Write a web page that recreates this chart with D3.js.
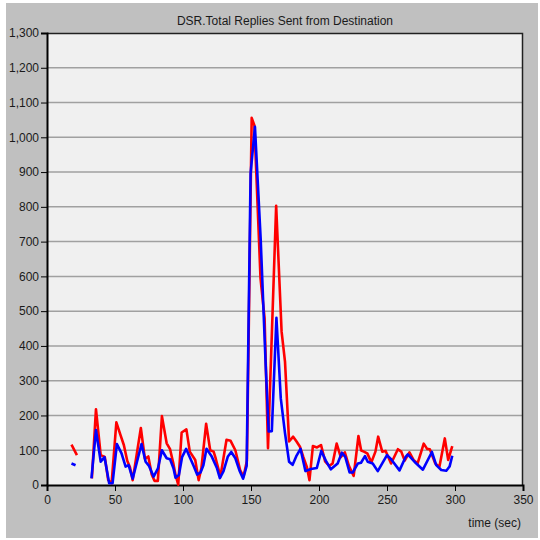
<!DOCTYPE html>
<html>
<head>
<meta charset="utf-8">
<script src="https://cdn.jsdelivr.net/npm/d3@7"></script>
<style>
    body { margin: 0; background: #ffffff; }
    #chart { width: 540px; height: 540px; }
    text { font-family: "Liberation Sans", Arial, sans-serif; }
</style>
</head>
<body>
<div id="chart"></div>
<script>
var chartTitle = "DSR.Total Replies Sent from Destination";
var xAxisLabel = "time (sec)";
var xTicks = [0, 50, 100, 150, 200, 250, 300, 350];
var yTicks = [0, 100, 200, 300, 400, 500, 600, 700, 800, 900, 1000, 1100, 1200, 1300];

// null = gap in the trace
var redTime = [18, 22, null, 33, 36, 39.5, 42.5, 45, 47.5, 51, 54, 56.5, 59, 61, 63, 69, 72, 74.5, 77, 79, 81.5, 84.5, 88, 90.5, 93, 94.5, 96.5, 99, 102.5, 105, 109, 111.5, 113.5, 117, 120, 122.5, 124, 127.5, 132, 135, 138.5, 142, 144.5, 147, 150.5, 152.5, 157, 160, 162.5, 168.5, 172.5, 175, 178, 181, 183.5, 186, 188.5, 191, 193, 195.5, 198.5, 201.5, 204.5, 207.5, 210, 213, 216, 219, 222, 225.5, 229, 231, 233, 235.5, 238.5, 241.5, 243.5, 246.5, 249, 253, 258, 260.5, 263, 266.5, 269.5, 272.5, 277, 279.5, 281.5, 285.5, 288.5, 292.5, 295, 298];
var redValue = [116, 86, null, 19, 218, 86, 81, 14, 5, 180, 144, 115, 70, 51, 14, 164, 75, 82, 30, 12, 12, 198, 120, 103, 60, 29, 1, 151, 160, 96, 72, 14, 48, 176, 100, 96, 77, 24, 130, 127, 100, 43, 24, 70, 1056, 1034, 594, 479, 106, 803, 441, 355, 125, 139, 125, 110, 80, 53, 14, 112, 108, 115, 68, 55, 62, 119, 80, 94, 55, 26, 141, 99, 96, 91, 65, 96, 139, 96, 98, 62, 103, 96, 70, 94, 72, 62, 119, 104, 103, 62, 52, 134, 72, 112];

var blueTime = [18, 21, null, 32.7, 36, 39.5, 42.3, 45.7, 48.2, 51.4, 54.8, 57.8, 60, 63, 69.5, 72.5, 75, 78.4, 81.6, 84.5, 88, 90.5, 93, 94.5, 97, 99.3, 102.3, 104.5, 108, 110.4, 112.9, 115, 117.3, 121, 125, 127.1, 129.8, 133, 135.5, 138.5, 141.5, 144.2, 146.8, 149.7, 152.9, 157.1, 160.8, 163, 165.3, 168.7, 171.9, 175, 178, 180.6, 183.3, 186.4, 190, 194, 198.4, 201.7, 205, 208.7, 213.7, 216.8, 219.3, 222.5, 224.8, 228.6, 230.9, 233.8, 235.8, 239.5, 243.2, 250, 253, 259.2, 263.6, 265.3, 270.2, 276.4, 283, 286.2, 289.9, 293.6, 296, 298];
var blueValue = [62, 57, null, 19, 158, 67, 80, 5, 5, 118, 91, 53, 57, 18, 118, 67, 55, 24, 48, 100, 77, 74, 48, 21, 29, 80, 104, 84, 53, 30, 36, 57, 104, 83, 48, 20, 40, 82, 95, 77, 42, 18, 55, 896, 1030, 709, 345, 154, 155, 481, 249, 149, 67, 58, 83, 104, 40, 46, 49, 98, 70, 45, 62, 93, 81, 36, 36, 62, 64, 83, 67, 62, 40, 86, 74, 42, 80, 88, 67, 44, 95, 57, 43, 41, 53, 84];

var margin = { top: 33, right: 17, bottom: 55, left: 47 };
var width = 540, height = 540;
var plotWidth = width - margin.left - margin.right,
    plotHeight = height - margin.top - margin.bottom;

var svg = d3.select("#chart")
    .append("svg")
    .attr("width", width)
    .attr("height", height);

// grey panel
svg.append("rect")
    .attr("x", 6)
    .attr("y", 3)
    .attr("width", width - 8)
    .attr("height", height - 5)
    .attr("fill", "#c0c0c0");

svg.append("text")
    .attr("x", 285)
    .attr("y", 25)
    .attr("text-anchor", "middle")
    .attr("font-size", "12px")
    .attr("fill", "#1a1a1a")
    .text(chartTitle);

var g = svg.append("g")
    .attr("transform", "translate(" + margin.left + "," + margin.top + ")");

var x = d3.scaleLinear().domain([0, 350]).range([0, plotWidth]);
var y = d3.scaleLinear().domain([0, 1300]).range([plotHeight, 0]);

g.append("rect")
    .attr("width", plotWidth)
    .attr("height", plotHeight)
    .attr("fill", "#f0f0f0");

// horizontal grid
g.selectAll(".grid")
    .data(yTicks.slice(1, -1))
    .enter()
    .append("line")
    .attr("class", "grid")
    .attr("x1", 0)
    .attr("x2", plotWidth)
    .attr("y1", function (d) { return y(d); })
    .attr("y2", function (d) { return y(d); })
    .attr("stroke", "#a0a0a0")
    .attr("stroke-width", 1.5);

// top and right frame
g.append("path")
    .attr("d", "M0,0.5H" + (plotWidth - 0.5) + "V" + plotHeight)
    .attr("fill", "none")
    .attr("stroke", "#202020")
    .attr("stroke-width", 1.5);

var yAxis = d3.axisLeft(y)
    .tickValues(yTicks)
    .tickSize(6)
    .tickPadding(2)
    .tickFormat(d3.format(","));

var gy = g.append("g")
    .call(yAxis);
gy.select(".domain").attr("stroke", "#000").attr("stroke-width", 2);
gy.selectAll(".tick line").attr("stroke", "#000");
gy.selectAll("text")
    .attr("font-size", "12px")
    .attr("font-family", "Liberation Sans, Arial, sans-serif")
    .attr("fill", "#1a1a1a");

var xAxis = d3.axisBottom(x)
    .tickValues(xTicks)
    .tickSize(6)
    .tickPadding(4);

var gx = g.append("g")
    .attr("transform", "translate(0," + plotHeight + ")")
    .call(xAxis);
gx.select(".domain").attr("stroke", "#000").attr("stroke-width", 2);
gx.selectAll(".tick line").attr("stroke", "#000");
gx.selectAll("text")
    .attr("font-size", "12px")
    .attr("font-family", "Liberation Sans, Arial, sans-serif")
    .attr("fill", "#1a1a1a");

svg.append("text")
    .attr("x", 521)
    .attr("y", 527)
    .attr("text-anchor", "end")
    .attr("font-size", "12px")
    .attr("fill", "#1a1a1a")
    .text(xAxisLabel);

function toPoints(times, values) {
    return times.map(function (t, i) {
        return { t: t, v: values[i] };
    });
}

var line = d3.line()
    .defined(function (d) { return d.t !== null && d.v !== null; })
    .x(function (d) { return x(d.t); })
    .y(function (d) { return y(d.v); });

var series = [
    { points: toPoints(redTime, redValue), color: "#ff0000" },
    { points: toPoints(blueTime, blueValue), color: "#0000ff" }
];

g.selectAll(".trace")
    .data(series)
    .enter()
    .append("path")
    .attr("class", "trace")
    .attr("fill", "none")
    .attr("stroke", function (d) { return d.color; })
    .attr("stroke-width", 2.6)
    .attr("stroke-linejoin", "round")
    .attr("d", function (d) { return line(d.points); });
</script>
</body>
</html>
